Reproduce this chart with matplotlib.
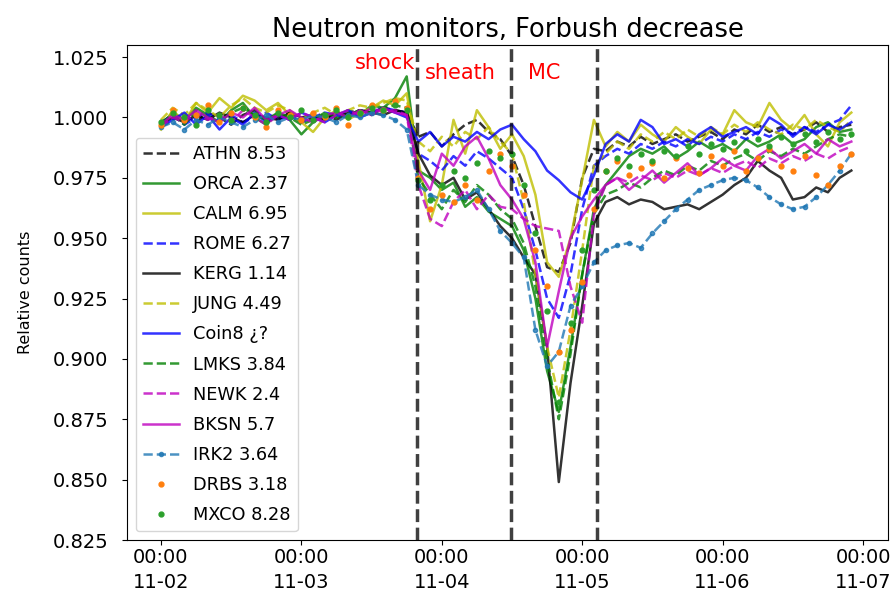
import numpy as np
import pandas as pd
import matplotlib
matplotlib.use('Agg')
import matplotlib.pyplot as plt
import matplotlib.dates as mdates

# Tiempo: cada 2 horas desde 2021-11-02 00:00
tiempo = pd.date_range('2021-11-02 00:00', periods=60, freq='2h')

# Eventos (choque, fin de la funda, fin de la nube magnetica)
choque = pd.Timestamp('2021-11-03 19:45')
finFunda = pd.Timestamp('2021-11-04 11:50')
finMC = pd.Timestamp('2021-11-05 02:30')

ATHN = [0.996, 0.999, 1.001, 0.998, 1.002, 1.000, 0.997, 1.001, 1.003, 0.999, 1.000, 1.002, 0.998, 1.000, 1.001, 0.999, 1.002, 1.003, 1.001, 1.004, 1.003, 1.002,
        0.992, 0.994, 0.988, 0.993, 0.997, 0.999, 0.994, 0.991,
        0.984, 0.972, 0.955, 0.938, 0.936, 0.948, 0.975, 0.987,
        0.986, 0.990, 0.988, 0.992, 0.989, 0.991, 0.993, 0.990, 0.992, 0.994, 0.991, 0.995, 0.993, 0.997, 0.994, 0.996, 0.993, 0.995, 0.998, 0.994, 0.996, 0.997]
ORCA = [0.997, 1.002, 0.999, 1.004, 1.001, 0.998, 1.003, 1.006, 1.000, 0.997, 1.002, 0.999, 0.993, 0.998, 1.001, 1.000, 1.003, 1.001, 1.005, 1.004, 1.008, 1.017,
        0.978, 0.975, 0.970, 0.973, 0.963, 0.967, 0.961, 0.958,
        0.955, 0.945, 0.925, 0.895, 0.878, 0.905, 0.935, 0.962,
        0.972, 0.978, 0.984, 0.987, 0.985, 0.988, 0.983, 0.986, 0.990, 0.987, 0.989, 0.986, 0.991, 0.988, 0.990, 0.993, 0.989, 0.991, 0.996, 0.998, 0.994, 0.995]
CALM = [0.995, 1.003, 0.998, 1.006, 1.002, 1.008, 1.004, 1.009, 1.007, 1.003, 1.006, 1.001, 0.998, 0.994, 1.000, 1.003, 0.999, 1.002, 1.004, 1.007, 1.005, 1.010,
        0.982, 0.957, 0.972, 0.999, 0.985, 1.003, 0.996, 0.987,
        0.993, 0.984, 0.968, 0.940, 0.934, 0.950, 0.974, 0.999,
        0.988, 0.994, 0.990, 0.997, 0.993, 0.990, 0.996, 0.992, 0.989, 0.995, 0.993, 1.003, 0.998, 0.996, 1.006, 0.999, 0.995, 1.001, 0.993, 0.988, 0.998, 1.002]
ROME = [0.998, 1.001, 0.997, 1.000, 1.002, 0.999, 1.001, 0.998, 1.000, 1.002, 0.999, 1.001, 0.998, 1.000, 1.002, 1.001, 1.000, 1.003, 1.002, 1.004, 1.003, 1.002,
        0.985, 0.982, 0.978, 0.984, 0.980, 0.986, 0.983, 0.979,
        0.975, 0.962, 0.945, 0.925, 0.917, 0.935, 0.962, 0.980,
        0.984, 0.987, 0.985, 0.989, 0.987, 0.990, 0.988, 0.991, 0.989, 0.992, 0.990, 0.993, 0.991, 0.994, 0.992, 0.995, 0.993, 0.996, 0.994, 0.997, 0.999, 1.005]
KERG = [0.997, 1.000, 0.998, 1.001, 0.999, 1.002, 1.000, 0.998, 1.001, 1.000, 0.999, 1.002, 1.000, 1.001, 0.999, 1.002, 1.001, 1.003, 1.002, 1.001, 1.003, 1.002,
        0.985, 0.976, 0.972, 0.975, 0.966, 0.969, 0.962, 0.955,
        0.950, 0.942, 0.935, 0.905, 0.849, 0.890, 0.922, 0.956,
        0.965, 0.967, 0.964, 0.966, 0.965, 0.962, 0.963, 0.964, 0.962, 0.965, 0.968, 0.972, 0.975, 0.982, 0.978, 0.975, 0.966, 0.967, 0.971, 0.969, 0.975, 0.978]
JUNG = [0.999, 1.004, 1.001, 1.006, 1.003, 1.000, 1.005, 1.008, 1.004, 1.002, 1.005, 1.003, 0.999, 1.002, 1.004, 1.001, 1.003, 1.005, 1.004, 1.006, 1.008, 1.007,
        0.990, 0.986, 0.992, 0.988, 0.994, 0.991, 0.996, 0.990,
        0.985, 0.965, 0.935, 0.905, 0.884, 0.912, 0.945, 0.980,
        0.985, 0.990, 0.987, 0.993, 0.990, 0.994, 0.991, 0.995, 0.992, 0.996, 0.993, 0.997, 0.994, 0.998, 0.995, 0.993, 0.997, 0.995, 0.999, 0.996, 0.994, 0.999]
Coin8 = [0.996, 0.999, 1.002, 0.997, 1.001, 0.995, 1.000, 0.997, 1.002, 0.998, 1.001, 0.999, 1.002, 1.000, 0.998, 1.001, 1.003, 1.000, 1.002, 1.004, 1.002, 1.000,
         0.990, 0.994, 0.988, 0.992, 0.990, 0.994, 0.991, 0.995,
         0.997, 0.991, 0.986, 0.978, 0.974, 0.969, 0.966, 0.976,
         0.989, 0.993, 0.990, 0.999, 0.996, 0.989, 0.991, 0.988, 0.993, 0.996, 0.992, 0.994, 0.996, 0.993, 1.000, 0.997, 0.992, 0.996, 0.993, 0.997, 0.995, 0.998]
LMKS = [0.998, 1.001, 0.997, 1.003, 1.000, 0.998, 1.002, 1.004, 1.001, 0.999, 1.002, 1.000, 0.997, 0.999, 1.002, 1.000, 1.001, 1.003, 1.002, 1.004, 1.005, 1.004,
        0.975, 0.968, 0.962, 0.970, 0.965, 0.972, 0.968, 0.962,
        0.958, 0.948, 0.930, 0.900, 0.875, 0.902, 0.935, 0.960,
        0.968, 0.970, 0.973, 0.971, 0.975, 0.978, 0.976, 0.980, 0.978, 0.982, 0.980, 0.983, 0.985, 0.982, 0.986, 0.984, 0.987, 0.985, 0.988, 0.991, 0.993, 0.992]
NEWK = [0.996, 1.000, 0.998, 1.002, 0.999, 1.001, 0.998, 1.003, 1.000, 0.997, 1.001, 0.999, 1.002, 1.000, 0.998, 1.001, 1.003, 1.001, 1.004, 1.002, 1.003, 1.001,
        0.972, 0.958, 0.955, 0.965, 0.970, 0.962, 0.968, 0.963,
        0.962, 0.958, 0.955, 0.954, 0.953, 0.930, 0.915, 0.960,
        0.972, 0.975, 0.973, 0.976, 0.974, 0.977, 0.975, 0.978, 0.976, 0.979, 0.977, 0.980, 0.982, 0.979, 0.983, 0.981, 0.984, 0.982, 0.985, 0.983, 0.986, 0.988]
BKSN = [0.997, 1.001, 0.999, 1.003, 1.000, 0.998, 1.002, 1.000, 1.004, 0.999, 1.001, 1.003, 1.000, 0.998, 1.001, 1.002, 1.000, 1.003, 1.001, 1.004, 1.002, 1.001,
        0.978, 0.970, 0.985, 0.980, 0.988, 0.992, 0.983, 0.972,
        0.966, 0.958, 0.940, 0.905, 0.928, 0.950, 0.959, 0.966,
        0.972, 0.975, 0.970, 0.974, 0.978, 0.973, 0.977, 0.981, 0.976, 0.979, 0.983, 0.980, 0.978, 0.984, 0.987, 0.983, 0.986, 0.989, 0.985, 0.991, 0.988, 0.990]
IRK2 = [0.996, 0.998, 0.995, 0.999, 0.997, 1.000, 0.998, 0.996, 0.999, 1.001, 0.998, 1.000, 0.999, 1.001, 1.000, 0.998, 1.001, 1.000, 1.002, 1.001, 0.999, 0.995,
        0.972, 0.968, 0.966, 0.965, 0.967, 0.970, 0.962, 0.953,
        0.948, 0.942, 0.912, 0.897, 0.903, 0.922, 0.930, 0.940,
        0.945, 0.947, 0.948, 0.946, 0.952, 0.957, 0.962, 0.966, 0.970, 0.972, 0.974, 0.975, 0.974, 0.971, 0.967, 0.964, 0.962, 0.963, 0.967, 0.972, 0.978, 0.985]
DRBS = [0.997, 1.003, 0.999, 1.001, 1.005, 0.998, 1.002, 1.004, 1.000, 0.996, 1.003, 1.001, 0.999, 1.002, 1.000, 1.004, 0.997, 1.002, 1.005, 1.003, 1.007, 1.004,
        0.975, 0.962, 0.968, 0.965, 0.972, 0.966, 0.978, 0.985,
        0.980, 0.968, 0.945, 0.930, 0.903, 0.912, 0.932, 0.962,
        0.978, 0.982, 0.976, 0.979, 0.981, 0.975, 0.983, 0.979, 0.977, 0.984, 0.980, 0.986, 0.978, 0.983, 0.987, 0.980, 0.978, 0.984, 0.976, 0.972, 0.980, 0.985]
MXCO = [0.998, 1.002, 1.000, 0.997, 1.003, 1.001, 0.999, 1.004, 1.001, 0.998, 1.002, 1.000, 1.003, 0.999, 1.001, 1.003, 1.000, 1.002, 1.004, 1.003, 1.005, 1.003,
        0.974, 0.966, 0.972, 0.978, 0.975, 0.981, 0.986, 0.983,
        0.985, 0.972, 0.952, 0.920, 0.882, 0.915, 0.945, 0.970,
        0.978, 0.983, 0.980, 0.985, 0.982, 0.986, 0.984, 0.988, 0.985, 0.989, 0.987, 0.990, 0.986, 0.991, 0.988, 0.992, 0.989, 0.993, 0.990, 0.994, 0.991, 0.993]

fig = plt.figure(figsize=(8.9, 5.99), dpi=100)
ax = fig.add_axes([127/890, 59/599, 761/890, 495/599])

a = 0.8
ax.plot(tiempo, ATHN, 'k--', lw=1.8, alpha=a, label='ATHN 8.53')
ax.plot(tiempo, ORCA, 'g-', lw=1.8, alpha=a, label='ORCA 2.37')
ax.plot(tiempo, CALM, 'y-', lw=1.8, alpha=a, label='CALM 6.95')
ax.plot(tiempo, ROME, 'b--', lw=1.8, alpha=a, label='ROME 6.27')
ax.plot(tiempo, KERG, 'k-', lw=1.8, alpha=a, label='KERG 1.14')
ax.plot(tiempo, JUNG, 'y--', lw=1.8, alpha=a, label='JUNG 4.49')
ax.plot(tiempo, Coin8, 'b-', lw=1.8, alpha=a, label='Coin8 ¿?')
ax.plot(tiempo, LMKS, 'g--', lw=1.8, alpha=a, label='LMKS 3.84')
ax.plot(tiempo, NEWK, 'm--', lw=1.8, alpha=a, label='NEWK 2.4')
ax.plot(tiempo, BKSN, 'm-', lw=1.8, alpha=a, label='BKSN 5.7')
ax.plot(tiempo, IRK2, '--.', color='tab:blue', lw=1.8, alpha=a, label='IRK2 3.64')
ax.plot(tiempo, DRBS, '.', color='tab:orange', ms=7, label='DRBS 3.18')
ax.plot(tiempo, MXCO, '.', color='tab:green', ms=7, label='MXCO 8.28')

for t in [choque, finFunda, finMC]:
    ax.axvline(t, color='k', ls='--', lw=2.5, alpha=0.75)

ax.text(pd.Timestamp('2021-11-03 09:10'), 1.0227, 'shock', color='r', fontsize=15, va='center')
ax.text(pd.Timestamp('2021-11-03 21:07'), 1.0186, 'sheath', color='r', fontsize=15, va='center')
ax.text(pd.Timestamp('2021-11-04 14:44'), 1.0186, 'MC', color='r', fontsize=15, va='center')

ax.set_xlim(pd.Timestamp('2021-11-02 00:00') - pd.Timedelta(hours=5.81),
            pd.Timestamp('2021-11-07 00:00') + pd.Timedelta(hours=4.27))
ax.set_ylim(0.825, 1.03)
ax.set_yticks(np.arange(0.825, 1.0251, 0.025))
ax.xaxis.set_major_locator(mdates.DayLocator())
ax.xaxis.set_major_formatter(mdates.DateFormatter('%H:%M\n%m-%d'))
ax.tick_params(labelsize=14)
ax.tick_params(axis='y', pad=10)
ax.tick_params(axis='x', pad=2)
for lab in ax.get_xticklabels():
    lab.set_linespacing(1.45)

ax.set_title('Neutron monitors, Forbush decrease', fontsize=18.5)
ax.set_ylabel('Relative counts', fontsize=11.5, labelpad=14)
ax.legend(loc='lower left', fontsize=12.8, labelspacing=0.68)

fig.savefig('out.png', dpi=100)
